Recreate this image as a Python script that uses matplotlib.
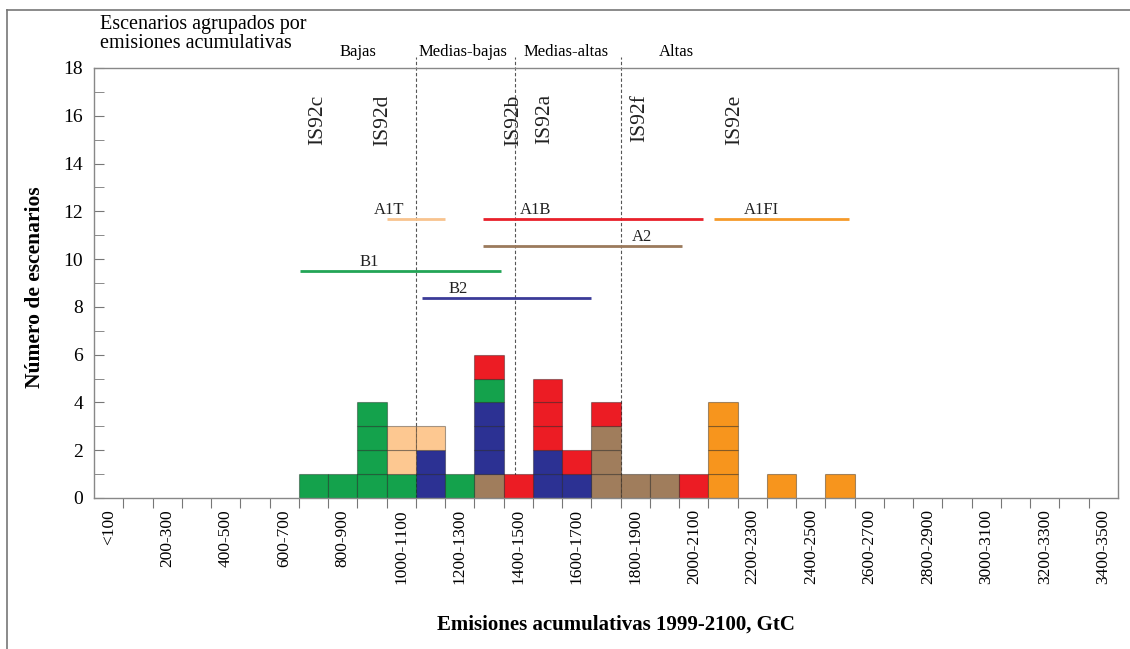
import matplotlib.pyplot as plt
from matplotlib.lines import Line2D

plt.rcParams['font.family'] = ['Liberation Serif', 'DejaVu Serif']

# bins of 100 GtC, 0-3500
bin_labels = ['<100', '200-300', '400-500', '600-700', '800-900', '1000-1100',
              '1200-1300', '1400-1500', '1600-1700', '1800-1900', '2000-2100',
              '2200-2300', '2400-2500', '2600-2700', '2800-2900', '3000-3100',
              '3200-3300', '3400-3500']

# number of scenarios per 100 GtC bin (35 bins), stacking order bottom->top
a2   = [0]*13 + [1, 0, 0, 0, 3, 1, 1] + [0]*15
b2   = [0]*11 + [2, 0, 3, 0, 2, 1] + [0]*18
b1   = [0]*7 + [1, 1, 4, 1, 0, 1, 1] + [0]*21
a1t  = [0]*10 + [2, 1] + [0]*23
a1b  = [0]*13 + [1, 1, 3, 1, 1, 0, 0, 1] + [0]*14
a1fi = [0]*21 + [4, 0, 1, 0, 1] + [0]*9

families = [('A2', a2, '#a07d5c'), ('B2', b2, '#2c3193'), ('B1', b1, '#14a24c'),
            ('A1T', a1t, '#fdc891'), ('A1B', a1b, '#ec1c24'), ('A1FI', a1fi, '#f7951d')]

# range of cumulative emissions per scenario family (GtC)
ranges = {'A1T': (1000, 1200), 'A1B': (1330, 2080), 'A1FI': (2120, 2580),
          'A2': (1330, 2010), 'B1': (705, 1390), 'B2': (1120, 1700)}

# IS92 scenarios (GtC)
is92_names = ['IS92c', 'IS92d', 'IS92b', 'IS92a', 'IS92f', 'IS92e']
is92_vals = [765, 985, 1435, 1540, 1865, 2190]

# category boundaries (GtC)
bounds = [1100, 1440, 1800]
cat_names = ['Bajas', 'Medias-bajas', 'Medias-altas', 'Altas']

W, H = 1130, 649
fig = plt.figure(figsize=(W / 100, H / 100), dpi=100)
ax = fig.add_axes([94 / W, 151 / H, 1024 / W, 430 / H])

heights = [0] * 35
for name, counts, col in families:
    for k, c in enumerate(counts):
        for j in range(c):
            ax.bar(k * 100 + 50, 1, width=100, bottom=heights[k], color=col,
                   edgecolor=(0, 0, 0, 0.35), linewidth=0.8, zorder=2)
            heights[k] += 1

# family range lines and labels
line_style = {'A1T': (11.68, '#f8c38e', 1010, 12.05),
              'A1B': (11.68, '#e8202a', 1510, 12.05),
              'A1FI': (11.68, '#f59a2a', 2280, 12.05),
              'A2': (10.55, '#9b7a5c', 1873, 10.92),
              'B1': (9.50, '#22a556', 940, 9.88),
              'B2': (8.37, '#3b3b98', 1245, 8.74)}
for name, (x0, x1) in ranges.items():
    y, col, tx, ty = line_style[name]
    ax.plot([x0, x1], [y, y], color=col, lw=2, solid_capstyle='butt', zorder=3)
    ax.text(tx, ty, name, ha='center', va='center', fontsize=12, color='#222')

for name, v in zip(is92_names, is92_vals):
    ax.text(v, 16.9, name, rotation=90, ha='center', va='top', fontsize=15.5,
            color='#222')

ax.vlines(bounds, 0, 18.45, colors='#555555', linestyles=(0, (3, 2)),
          linewidth=0.8, clip_on=False, zorder=1)

ax.set_xlim(0, 3500)
ax.set_ylim(0, 18)
ax.set_xticks(range(100, 3500, 100))
ax.set_xticklabels([])
ax.set_xticks([50 + 200 * i for i in range(len(bin_labels))], minor=True)
ax.set_xticklabels(bin_labels, minor=True, rotation=90, fontsize=12.5)
ax.tick_params(axis='x', which='major', direction='out', length=7,
               color='#777777')
ax.tick_params(axis='x', which='minor', length=0, pad=8)
ax.set_yticks(range(0, 19, 2))
ax.set_yticks(range(1, 18, 2), minor=True)
ax.tick_params(axis='y', which='both', direction='in', length=7,
               color='#777777', labelsize=14, pad=8)
for s in ax.spines.values():
    s.set_color('#888888')
    s.set_linewidth(1)

fig.text(35 / W, 1 - 287 / H, 'Número de escenarios', rotation=90,
         ha='center', va='center', fontsize=15.5, fontweight='bold')
fig.text(616 / W, 1 - 625 / H, 'Emisiones acumulativas 1999-2100, GtC',
         ha='center', va='center', fontsize=15, fontweight='bold')
fig.text(100 / W, 1 - 15 / H, 'Escenarios agrupados por\nemisiones acumulativas',
         ha='left', va='top', fontsize=14.5, linespacing=1.0)

cat_x = [358, 463, 566, 676]
for name, px in zip(cat_names, cat_x):
    fig.text(px / W, 1 - 52 / H, name, ha='center', va='center', fontsize=12)

# outer frame (top and left edges only)
fig.add_artist(Line2D([7 / W, 1], [1 - 10 / H, 1 - 10 / H], color='#777777', lw=1.2))
fig.add_artist(Line2D([7 / W, 7 / W], [0, 1 - 10 / H], color='#777777', lw=1.2))

fig.savefig('out.png', dpi=100)
